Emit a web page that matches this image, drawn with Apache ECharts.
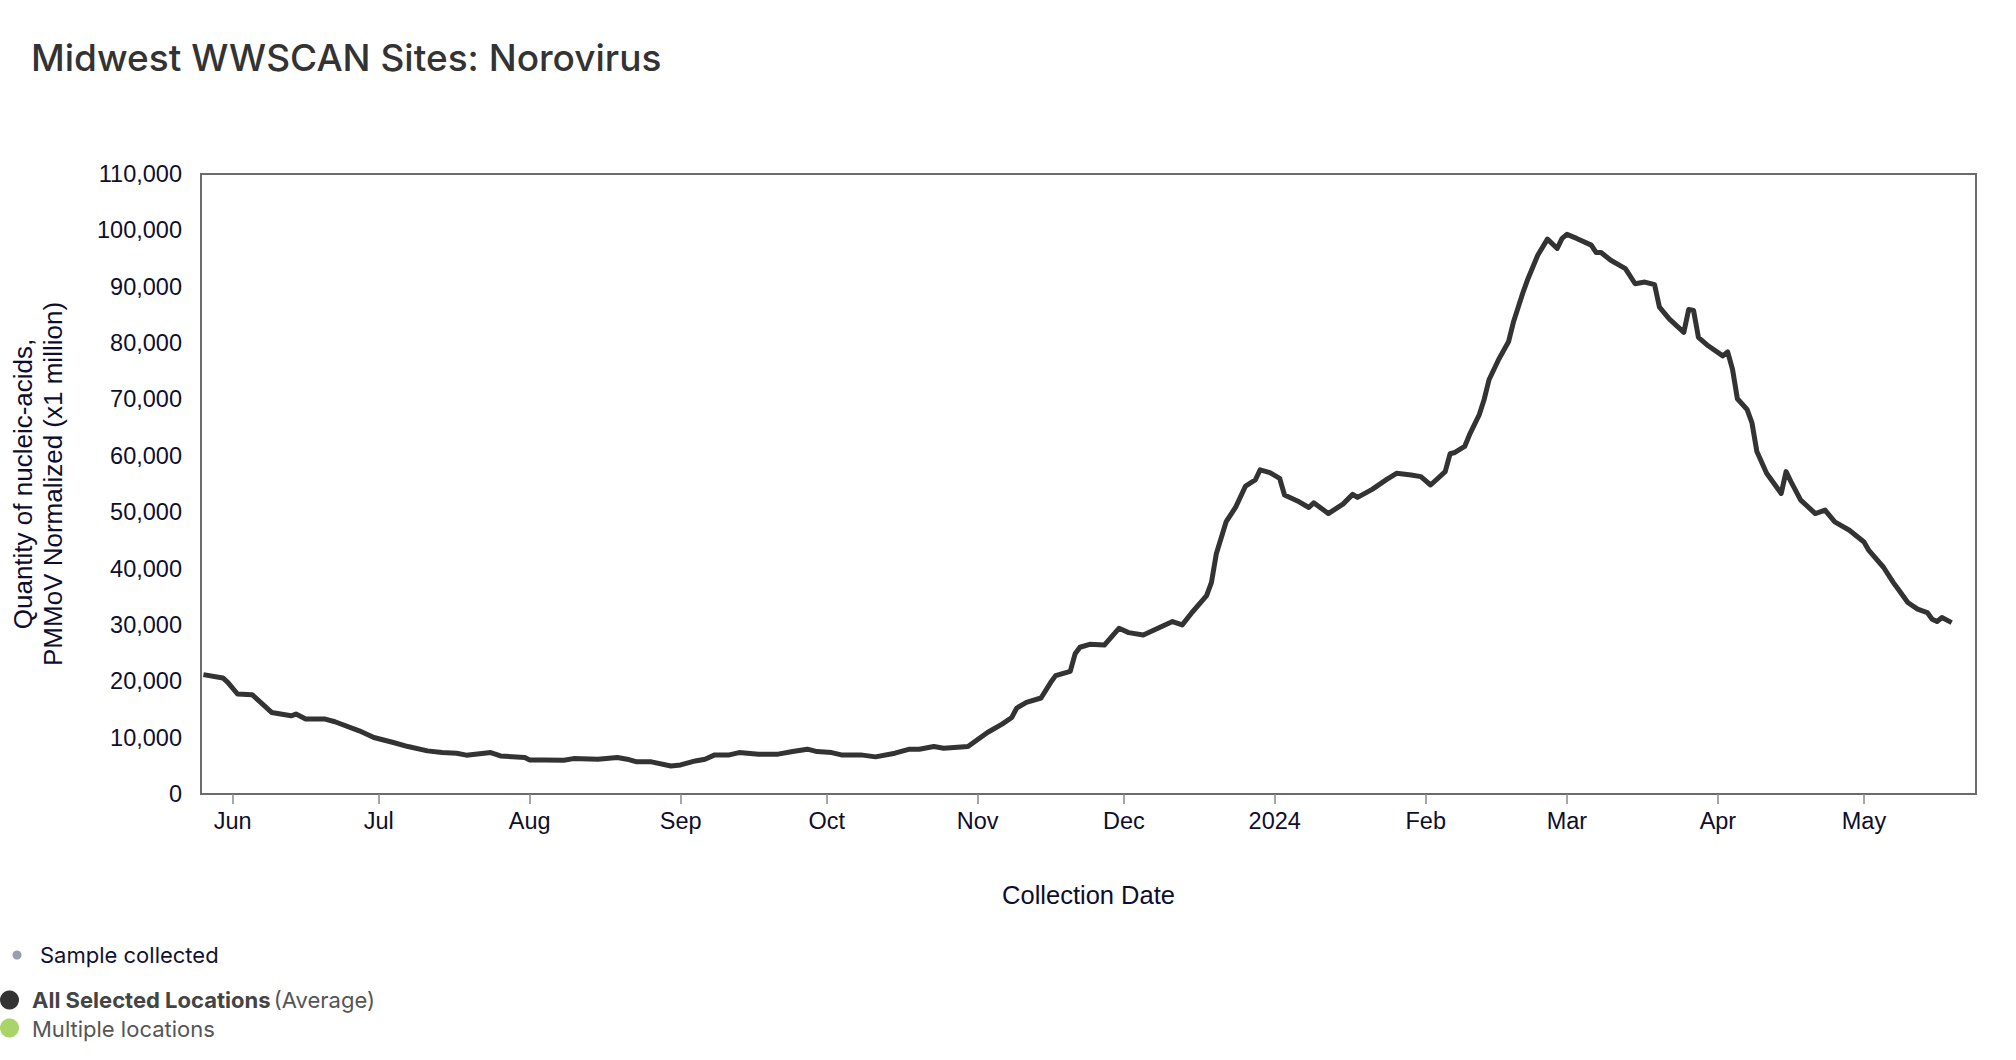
<!DOCTYPE html>
<html>
<head>
<meta charset="utf-8">
<script src="https://cdn.jsdelivr.net/npm/echarts@6/dist/echarts.min.js"></script>
<style>
html,body{margin:0;padding:0;background:#fff;}
#chart{width:2016px;height:1060px;}
</style>
</head>
<body>
<div id="chart"></div>
<script>
const chartTitle = 'Midwest WWSCAN Sites: Norovirus';
const xAxisTitle = 'Collection Date';
const yAxisTitle = 'Quantity of nucleic-acids,\nPMMoV Normalized (x1 million)';

const sampleDates = [
'2023-05-26','2023-05-30','2023-05-31','2023-06-02','2023-06-05','2023-06-09','2023-06-13','2023-06-14','2023-06-16','2023-06-20',
'2023-06-22','2023-06-27','2023-06-30','2023-07-04','2023-07-07','2023-07-11','2023-07-14','2023-07-17','2023-07-19','2023-07-24',
'2023-07-26','2023-07-31','2023-08-01','2023-08-04','2023-08-08','2023-08-10','2023-08-15','2023-08-19','2023-08-21','2023-08-23',
'2023-08-26','2023-08-30','2023-09-01','2023-09-04','2023-09-06','2023-09-08','2023-09-11','2023-09-13','2023-09-17','2023-09-21',
'2023-09-24','2023-09-27','2023-09-29','2023-10-02','2023-10-04','2023-10-08','2023-10-11','2023-10-15','2023-10-18','2023-10-20',
'2023-10-23','2023-10-25','2023-10-30','2023-11-03','2023-11-06','2023-11-08','2023-11-09','2023-11-11','2023-11-14','2023-11-16',
'2023-11-17','2023-11-20','2023-11-21','2023-11-22','2023-11-24','2023-11-27','2023-11-30','2023-12-02','2023-12-05','2023-12-09',
'2023-12-11','2023-12-13','2023-12-15','2023-12-18','2023-12-19','2023-12-20','2023-12-22','2023-12-24','2023-12-26','2023-12-28',
'2023-12-29','2023-12-31','2024-01-02','2024-01-03','2024-01-06','2024-01-08','2024-01-09','2024-01-12','2024-01-15','2024-01-17',
'2024-01-18','2024-01-21','2024-01-24','2024-01-26','2024-01-29','2024-01-31','2024-02-02','2024-02-05','2024-02-06','2024-02-07',
'2024-02-09','2024-02-10','2024-02-12','2024-02-13','2024-02-14','2024-02-16','2024-02-18','2024-02-19','2024-02-21','2024-02-22',
'2024-02-24','2024-02-26','2024-02-28','2024-02-29','2024-03-01','2024-03-03','2024-03-06','2024-03-07','2024-03-08','2024-03-10',
'2024-03-13','2024-03-15','2024-03-17','2024-03-19','2024-03-20','2024-03-22','2024-03-25','2024-03-26','2024-03-27','2024-03-28',
'2024-03-30','2024-04-02','2024-04-03','2024-04-04','2024-04-05','2024-04-07','2024-04-08','2024-04-09','2024-04-11','2024-04-14',
'2024-04-15','2024-04-16','2024-04-18','2024-04-21','2024-04-23','2024-04-25','2024-04-28','2024-05-01','2024-05-02','2024-05-05',
'2024-05-07','2024-05-08','2024-05-10','2024-05-12','2024-05-14','2024-05-15','2024-05-16','2024-05-17','2024-05-19'
];

const averageValues = [
21180,20590,19810,17740,17620,14470,13880,14180,13290,13290,
12820,11210,10020,9130,8420,7650,7350,7240,6890,7350,
6760,6460,6050,6050,6000,6280,6180,6460,6180,5700,
5700,4980,5160,5870,6180,6940,6940,7350,7070,7070,
7530,7950,7530,7350,6940,6940,6590,7240,7950,7950,
8420,8130,8420,10910,12400,13580,15250,16250,17030,19810,
21000,21770,24870,26040,26550,26430,29400,28630,28210,29820,
30590,30000,32200,35180,37550,42620,48270,50950,54640,55710,
57500,57020,56010,53040,51840,50830,51670,49760,51430,53160,
52620,54050,55830,56900,56610,56310,54820,57200,60360,60590,
61660,63750,67320,70000,73500,77140,80230,83690,89050,91430,
95590,98450,96790,98570,99290,98570,97380,96070,96070,94700,
93210,90530,90830,90360,86370,84290,81900,85950,85770,81010,
79520,77730,78450,75360,70120,68210,65830,60770,56900,53330,
57200,55410,52140,49760,50360,48270,46790,44700,43210,40230,
37550,36360,33980,32790,32200,31010,30590,31310,30410
];

const monthTickDates = ['2023-06-01','2023-07-01','2023-08-01','2023-09-01','2023-10-01','2023-11-01','2023-12-01',
  '2024-01-01','2024-02-01','2024-03-01','2024-04-01','2024-05-01'];
const monthTickLabels = ['Jun','Jul','Aug','Sep','Oct','Nov','Dec','2024','Feb','Mar','Apr','May'];

const axisStart = '2023-05-25T12:00';
const axisEnd = '2024-05-24T00:00';
const yTickValues = [0,10000,20000,30000,40000,50000,60000,70000,80000,90000,100000,110000];

function ts(s){
  const parts = s.split('T');
  const ymd = parts[0].split('-').map(Number);
  let hh = 0, mm = 0;
  if (parts[1]) { const hm = parts[1].split(':').map(Number); hh = hm[0]; mm = hm[1]; }
  return new Date(ymd[0], ymd[1]-1, ymd[2], hh, mm).getTime();
}

const tickTs = monthTickDates.map(ts);
const seriesData = sampleDates.map((d,i)=>[ts(d), averageValues[i]]);

const axisFont = '"Liberation Sans", Arial, Helvetica, sans-serif';
const uiFont = 'Inter, "Noto Sans", sans-serif';
const labelColor = '#0e0e2c';

const chart = echarts.init(document.getElementById('chart'), null, {renderer:'svg'});
chart.setOption({
  animation:false,
  backgroundColor:'#ffffff',
  title:{
    text: chartTitle,
    left: 31, top: 39, padding: 0,
    textStyle:{fontFamily: uiFont, fontSize: 37, fontWeight: 500, color:'#333333'}
  },
  grid:{
    left:200, right:40, top:174, bottom:266,
    show:true, borderColor:'#6b6b6b', borderWidth:2, backgroundColor:'transparent'
  },
  xAxis:{
    type:'value',
    min: ts(axisStart), max: ts(axisEnd),
    name: xAxisTitle, nameLocation:'middle', nameGap: 88,
    nameTextStyle:{fontFamily: axisFont, fontSize: 25.5, color: labelColor},
    axisLine:{show:false},
    axisTick:{show:true, length:10, lineStyle:{color:'#888888', width:1.5}, customValues: tickTs},
    axisLabel:{
      customValues: tickTs, margin: 15, showMinLabel:true, showMaxLabel:true,
      fontFamily: axisFont, fontSize: 23.5, color: labelColor,
      formatter: function(v){
        const i = tickTs.indexOf(v);
        return i >= 0 ? monthTickLabels[i] : '';
      }
    },
    splitLine:{show:false}
  },
  yAxis:{
    type:'value', min: yTickValues[0], max: yTickValues[yTickValues.length-1], interval: 10000,
    name: yAxisTitle, nameLocation:'middle', nameRotate: 90, nameGap: 133,
    nameTextStyle:{fontFamily: axisFont, fontSize: 26, lineHeight: 30, color: labelColor, align:'center'},
    axisLine:{show:false}, axisTick:{show:false}, splitLine:{show:false},
    axisLabel:{
      margin: 19, fontFamily: axisFont, fontSize: 23.5, color: labelColor,
      formatter: v => v.toLocaleString('en-US')
    }
  },
  series:[{
    name:'All Selected Locations',
    type:'line',
    data: seriesData,
    showSymbol:false,
    lineStyle:{color:'#333333', width:5, join:'round'},
    itemStyle:{color:'#333333'},
    clip:true
  }],
  graphic:[
    {type:'circle', shape:{cx:17, cy:955, r:4.5}, style:{fill:'#9a9dab'}},
    {type:'text', style:{x:40, y:955, text:'Sample collected', fontFamily: uiFont, fontSize: 22, fill:'#12122e', verticalAlign:'middle'}},
    {type:'circle', shape:{cx:9.5, cy:1000, r:9.5}, style:{fill:'#333333'}},
    {type:'text', style:{x:32, y:1000, verticalAlign:'middle',
      text:'{b|All Selected Locations} {r|(Average)}',
      rich:{
        b:{fontFamily: uiFont, fontSize: 22, fontWeight: 700, fill:'#444444'},
        r:{fontFamily: uiFont, fontSize: 22, fontWeight: 400, fill:'#555555'}
      }}},
    {type:'circle', shape:{cx:9.5, cy:1028, r:9.5}, style:{fill:'#a8d46a'}},
    {type:'text', style:{x:32, y:1029, text:'Multiple locations', fontFamily: uiFont, fontSize: 22, fill:'#555555', verticalAlign:'middle'}}
  ]
});
</script>
</body>
</html>
